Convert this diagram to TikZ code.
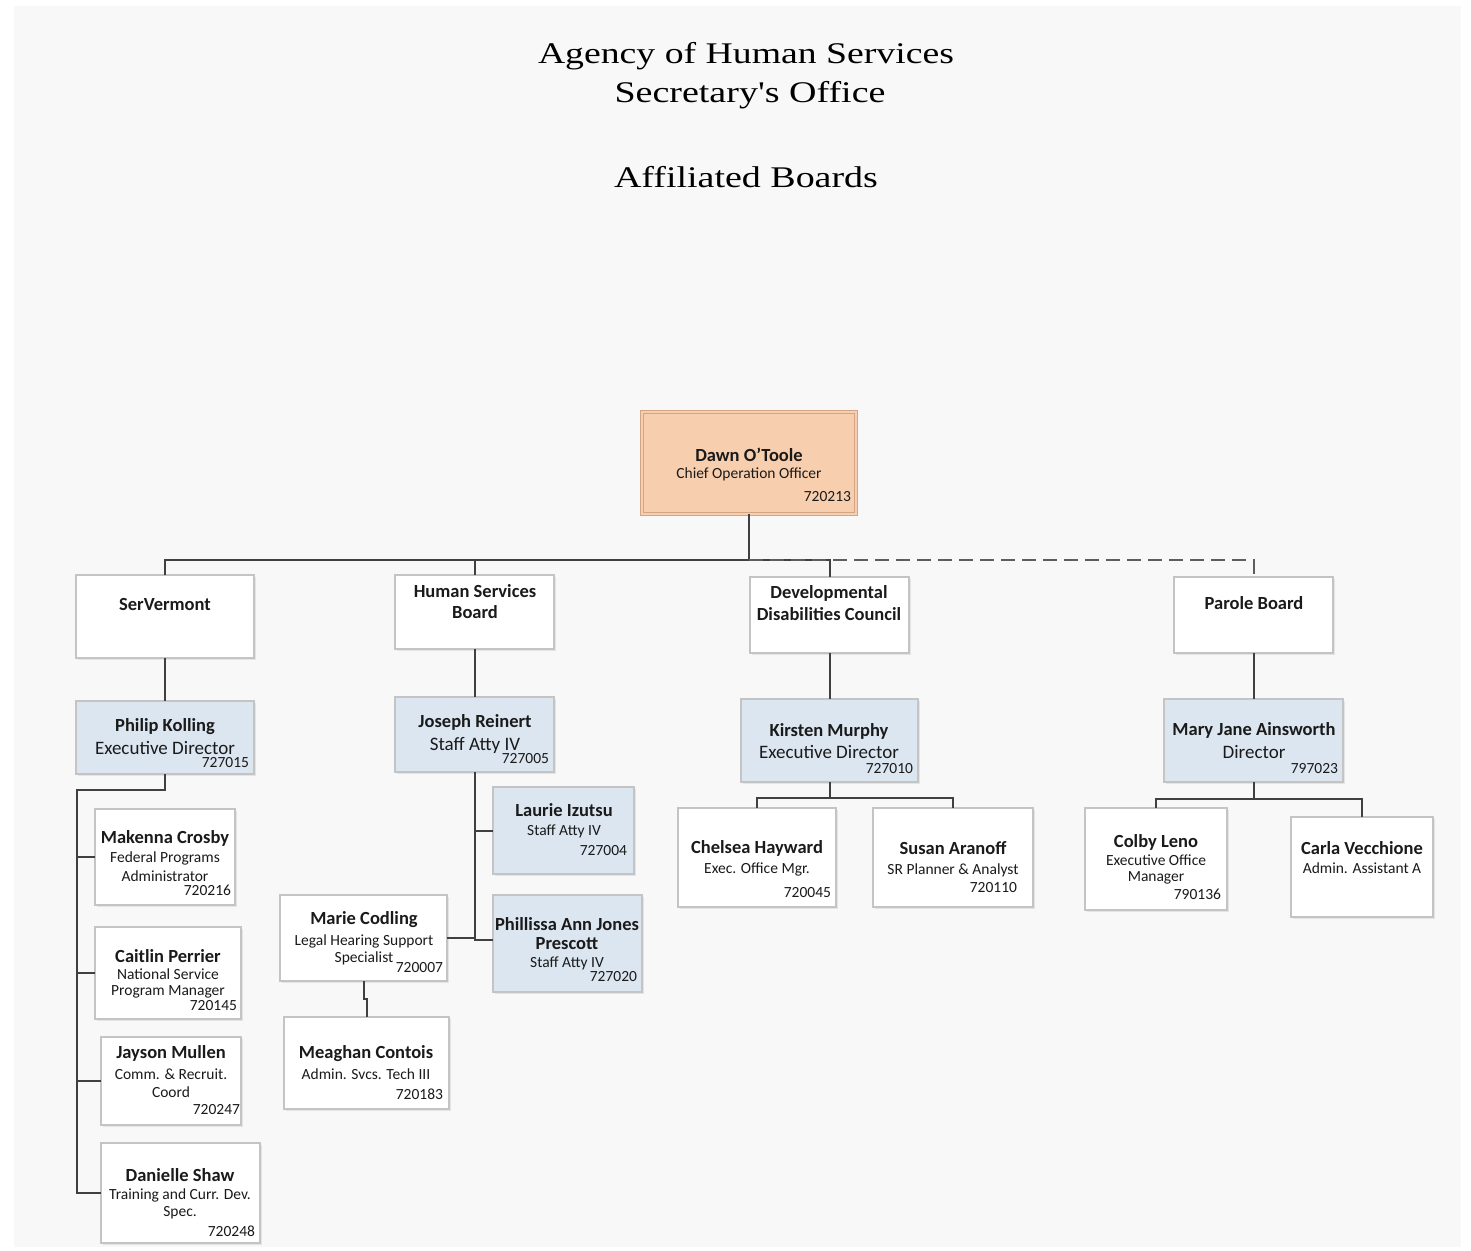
\documentclass[tikz,border=0pt]{standalone}
\usepackage{fontspec}
\usepackage{graphicx}
\setmainfont{Carlito}
\newfontfamily\titlefont{Liberation Serif}
\usetikzlibrary{shadows}
\definecolor{panel}{HTML}{F8F8F8}
\definecolor{bord}{HTML}{C4C4C4}
\definecolor{conn}{HTML}{404040}
\definecolor{blu}{HTML}{DCE6F1}
\definecolor{peach}{HTML}{F8CFAE}
\definecolor{peachb}{HTML}{D4A584}
\definecolor{ink}{HTML}{1A1A1A}
\tikzset{
  every node/.style={inner sep=0pt, outer sep=0pt, text=ink},
  card/.style={draw=bord, line width=1.1pt, fill=white,
    drop shadow={opacity=0.16, shadow xshift=2pt, shadow yshift=-2pt}},
  bluecard/.style={card, fill=blu},
  topcard/.style={draw=peachb, line width=0.8pt, double=peach, double distance=2pt, fill=peach,
    drop shadow={opacity=0.16, shadow xshift=2pt, shadow yshift=-2pt}},
  wire/.style={draw=conn, line width=2pt},
  dashwire/.style={draw=conn!85, line width=2pt, dash pattern=on 14pt off 7pt},
  nametxt/.style={font=\fontsize{18.5}{21}\selectfont\bfseries},
  subtxt/.style={font=\fontsize{19}{21}\selectfont},
  smalltxt/.style={font=\fontsize{15.5}{17}\selectfont},
  idtxt/.style={font=\fontsize{15.5}{17}\selectfont, anchor=east},
  ttl/.style={font=\titlefont\fontsize{30}{34}\selectfont, text=black}
}
\newcommand\card[6][card]{\node[#1, minimum width={(#5-#3)*1pt}, minimum height={(#6-#4)*1pt}] (#2) at ({(#3+#5)/2},{(#4+#6)/2}) {};}
\newcommand\tx[5]{\node[#1] (#2) at (#3,#4) {#5};}
\begin{document}
\begin{tikzpicture}[x=1pt,y=-1pt]
\useasboundingbox (0,0) rectangle (1471,1250);
\fill[white] (0,0) rectangle (1471,1250);
\fill[panel] (14,6) rectangle (1461,1247);

% titles
\node[ttl] (title1) at (746,56) {\resizebox{416pt}{\height}{Agency of Human Services}};
\node[ttl] (title2) at (750,95) {\resizebox{271pt}{\height}{Secretary's Office}};
\node[ttl] (title3) at (746,177) {\resizebox{264pt}{\height}{Affiliated Boards}};

% cards
\card[topcard]{dawn}{642}{412}{856}{514}
\card{serv}{76}{575}{254}{658}
\card{hsb}{395}{575}{554}{649}
\card{dev}{750}{577}{909}{653}
\card{parole}{1174}{577}{1333}{653}
\card[bluecard]{phil}{76}{701}{254}{774}
\card[bluecard]{jos}{395}{697}{554}{772}
\card[bluecard]{kir}{741}{699}{918}{782}
\card[bluecard]{mary}{1164}{699}{1343}{782}
\card{mak}{95}{809}{235}{905}
\card{cai}{95}{927}{241}{1019}
\card{jay}{101}{1037}{241}{1125}
\card{dan}{101}{1143}{260}{1243}
\card[bluecard]{lau}{493}{787}{634}{874}
\card[bluecard]{phi}{493}{895}{642}{992}
\card{mar}{280}{895}{447}{981}
\card{mea}{284}{1017}{449}{1109}
\card{che}{678}{808}{836}{907}
\card{sus}{873}{808}{1033}{907}
\card{col}{1085}{808}{1227}{910}
\card{car}{1291}{817}{1433}{917}

% helper coordinates
\coordinate (bus) at (0,560);
\coordinate (lspine) at (77,790);
\coordinate (jend) at (0,940);
\coordinate (mjog) at (0,999);
\coordinate (kbus) at (0,798);
\coordinate (mbus) at (0,799);

% connectors
\draw[wire] (dawn.south) -- (dawn.south |- bus);
\draw[wire] (serv.north) -- (serv.north |- bus) -- (dev.north |- bus) -- (dev.north);
\draw[wire] (hsb.north) -- (hsb.north |- bus);
\draw[dashwire] (dawn.south |- bus) -- (parole.north |- bus) -- (parole.north);
\draw[wire] (serv.south) -- (phil.north);
\draw[wire] (hsb.south) -- (jos.north);
\draw[wire] (dev.south) -- (kir.north);
\draw[wire] (parole.south) -- (mary.north);
% SerVermont staff
\draw[wire] (phil.south) |- (lspine) -- (dan.west -| lspine) -- (dan.west);
\draw[wire] (mak.west) -- (mak.west -| lspine);
\draw[wire] (cai.west) -- (cai.west -| lspine);
\draw[wire] (jay.west) -- (jay.west -| lspine);
% Human Services Board staff
\draw[wire] (jos.south) -- (jos.south |- jend) -- (jend -| phi.west);
\draw[wire] (lau.west) -- (lau.west -| jos.south);
\draw[wire] (mar.east) -- (mar.east -| jos.south);
\draw[wire] (mar.south) -- (mar.south |- mjog) -| (mea.north);
% DDC staff
\draw[wire] (kir.south) -- (kir.south |- kbus);
\draw[wire] (che.north) -- (che.north |- kbus) -- (sus.north |- kbus) -- (sus.north);
% Parole staff
\draw[wire] (mary.south) -- (mary.south |- mbus);
\draw[wire] (col.north) -- (col.north |- mbus) -- (car.north |- mbus) -- (car.north);

% texts
\tx{nametxt}{dawn-n}{749}{455}{Dawn O’Toole}
\tx{smalltxt}{dawn-t}{749}{474}{Chief Operation Officer}
\tx{idtxt}{dawn-i}{851}{497}{720213}

\tx{nametxt}{serv-n}{165}{604}{SerVermont}
\tx{nametxt}{hsb-n1}{475}{591}{Human Services}
\tx{nametxt}{hsb-n2}{475}{612}{Board}
\tx{nametxt}{dev-n1}{829}{593}{Developmental}
\tx{nametxt}{dev-n2}{829}{614}{Disabilities Council}
\tx{nametxt}{parole-n}{1254}{603}{Parole Board}

\tx{nametxt}{phil-n}{165}{727}{Philip Kolling}
\tx{subtxt}{phil-t}{165}{748}{Executive Director}
\tx{idtxt}{phil-i}{249}{763}{727015}
\tx{nametxt}{jos-n}{475}{722}{Joseph Reinert}
\tx{subtxt}{jos-t}{475}{745}{Staff Atty IV}
\tx{idtxt}{jos-i}{549}{759}{727005}
\tx{nametxt}{kir-n}{829}{731}{Kirsten Murphy}
\tx{subtxt}{kir-t}{829}{752}{Executive Director}
\tx{idtxt}{kir-i}{913}{769}{727010}
\tx{nametxt}{mary-n}{1254}{730}{Mary Jane Ainsworth}
\tx{subtxt}{mary-t}{1254}{752}{Director}
\tx{idtxt}{mary-i}{1338}{769}{797023}

\tx{nametxt}{mak-n}{165}{838}{Makenna Crosby}
\tx{smalltxt}{mak-t1}{165}{858}{Federal Programs}
\tx{smalltxt}{mak-t2}{165}{876}{Administrator}
\tx{idtxt}{mak-i}{231}{890}{720216}
\tx{nametxt}{cai-n}{168}{956}{Caitlin Perrier}
\tx{smalltxt}{cai-t1}{168}{974}{National Service}
\tx{smalltxt}{cai-t2}{168}{992}{Program Manager}
\tx{idtxt}{cai-i}{237}{1006}{720145}
\tx{nametxt}{jay-n}{171}{1053}{Jayson Mullen}
\tx{smalltxt}{jay-t1}{171}{1074}{Comm. \& Recruit.}
\tx{smalltxt}{jay-t2}{171}{1092}{Coord}
\tx{idtxt}{jay-i}{240}{1110}{720247}
\tx{nametxt}{dan-n}{180}{1175}{Danielle Shaw}
\tx{smalltxt}{dan-t1}{180}{1195}{Training and Curr. Dev.}
\tx{smalltxt}{dan-t2}{180}{1213}{Spec.}
\tx{idtxt}{dan-i}{255}{1231}{720248}

\tx{nametxt}{lau-n}{564}{810}{Laurie Izutsu}
\tx{smalltxt}{lau-t}{564}{831}{Staff Atty IV}
\tx{idtxt}{lau-i}{627}{851}{727004}
\tx{nametxt}{phi-n1}{567}{924}{Phillissa Ann Jones}
\tx{nametxt}{phi-n2}{567}{944}{Prescott}
\tx{smalltxt}{phi-t}{567}{963}{Staff Atty IV}
\tx{idtxt}{phi-i}{637}{977}{727020}
\tx{nametxt}{mar-n}{364}{920}{Marie Codling}
\tx{smalltxt}{mar-t1}{364}{941}{Legal Hearing Support}
\tx{smalltxt}{mar-t2}{364}{958}{Specialist}
\tx{idtxt}{mar-i}{443}{968}{720007}
\tx{nametxt}{mea-n}{366}{1054}{Meaghan Contois}
\tx{smalltxt}{mea-t}{366}{1074}{Admin. Svcs. Tech III}
\tx{idtxt}{mea-i}{443}{1094}{720183}

\tx{nametxt}{che-n}{757}{848}{Chelsea Hayward}
\tx{smalltxt}{che-t}{757}{869}{Exec. Office Mgr.}
\tx{idtxt}{che-i}{831}{893}{720045}
\tx{nametxt}{sus-n}{953}{848}{Susan Aranoff}
\tx{smalltxt}{sus-t}{953}{870}{SR Planner \& Analyst}
\tx{idtxt}{sus-i}{1017}{888}{720110}
\tx{nametxt}{col-n}{1156}{842}{Colby Leno}
\tx{smalltxt}{col-t1}{1156}{860}{Executive Office}
\tx{smalltxt}{col-t2}{1156}{878}{Manager}
\tx{idtxt}{col-i}{1221}{894}{790136}
\tx{nametxt}{car-n}{1362}{848}{Carla Vecchione}
\tx{smalltxt}{car-t}{1362}{868}{Admin. Assistant A}
\end{tikzpicture}
\end{document}
